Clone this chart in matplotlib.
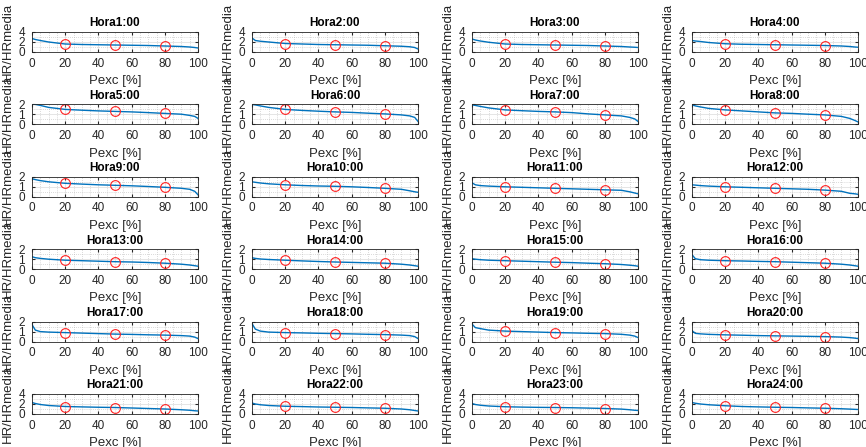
import numpy as np
import matplotlib
matplotlib.use('Agg')
from matplotlib import pyplot as plt
from matplotlib.ticker import AutoMinorLocator

plt.rcParams['font.family'] = ['Liberation Sans', 'DejaVu Sans']

# excedence percentages where each duration curve is read
pexc = [0, 2, 5, 10, 20, 30, 40, 50, 60, 70, 80, 90, 95, 98, 100]

# HR/HRmedia
h01 = [2.7, 2.5, 2.3, 2.0, 1.6, 1.5, 1.45, 1.4, 1.35, 1.3, 1.2, 1.1, 1.0, 0.9, 0.8]
h02 = [2.8, 2.3, 2.15, 2.0, 1.7, 1.6, 1.5, 1.45, 1.4, 1.35, 1.25, 1.15, 1.05, 0.9, 0.6]
h03 = [2.6, 2.4, 2.2, 1.95, 1.6, 1.5, 1.45, 1.4, 1.35, 1.3, 1.2, 1.1, 1.0, 0.95, 0.9]
h04 = [2.3, 2.2, 2.1, 1.9, 1.65, 1.55, 1.5, 1.45, 1.4, 1.35, 1.3, 1.2, 1.1, 1.0, 0.95]
h05 = [2.05, 2.0, 1.9, 1.7, 1.5, 1.42, 1.35, 1.3, 1.25, 1.18, 1.1, 1.02, 0.9, 0.8, 0.6]
h06 = [2.0, 1.95, 1.85, 1.7, 1.5, 1.4, 1.32, 1.25, 1.2, 1.12, 1.05, 0.95, 0.85, 0.7, 0.3]
h07 = [1.95, 1.9, 1.8, 1.65, 1.45, 1.37, 1.3, 1.25, 1.18, 1.05, 0.95, 0.85, 0.7, 0.55, 0.3]
h08 = [1.95, 1.85, 1.75, 1.6, 1.45, 1.35, 1.25, 1.15, 1.1, 1.02, 0.95, 0.8, 0.6, 0.4, 0.25]
h09 = [1.8, 1.72, 1.62, 1.5, 1.35, 1.27, 1.2, 1.15, 1.1, 1.03, 0.95, 0.85, 0.75, 0.55, 0.2]
h10 = [1.5, 1.45, 1.38, 1.3, 1.2, 1.13, 1.08, 1.05, 1.0, 0.93, 0.85, 0.75, 0.6, 0.5, 0.45]
h11 = [1.4, 1.2, 1.12, 1.07, 1.0, 0.95, 0.9, 0.85, 0.8, 0.75, 0.7, 0.65, 0.5, 0.38, 0.3]
h12 = [1.2, 1.17, 1.12, 1.07, 1.0, 0.95, 0.9, 0.85, 0.8, 0.75, 0.67, 0.55, 0.35, 0.3, 0.25]
h13 = [1.25, 1.15, 1.08, 1.0, 0.9, 0.85, 0.8, 0.75, 0.72, 0.67, 0.6, 0.5, 0.42, 0.35, 0.3]
h14 = [1.15, 1.08, 1.02, 0.97, 0.9, 0.83, 0.77, 0.72, 0.68, 0.64, 0.6, 0.5, 0.42, 0.35, 0.3]
h15 = [1.05, 1.0, 0.95, 0.9, 0.85, 0.8, 0.75, 0.7, 0.66, 0.6, 0.55, 0.47, 0.4, 0.35, 0.3]
h16 = [1.45, 1.05, 0.95, 0.9, 0.85, 0.82, 0.78, 0.75, 0.7, 0.65, 0.6, 0.5, 0.42, 0.35, 0.3]
h17 = [1.7, 1.15, 1.0, 0.95, 0.9, 0.85, 0.8, 0.75, 0.72, 0.68, 0.65, 0.6, 0.55, 0.45, 0.3]
h18 = [1.8, 1.25, 1.05, 0.95, 0.9, 0.87, 0.83, 0.8, 0.77, 0.73, 0.7, 0.65, 0.6, 0.5, 0.3]
h19 = [1.75, 1.4, 1.3, 1.15, 1.05, 1.0, 0.95, 0.9, 0.87, 0.83, 0.8, 0.73, 0.65, 0.55, 0.4]
h20 = [2.2, 1.65, 1.55, 1.45, 1.35, 1.28, 1.2, 1.15, 1.1, 1.05, 1.0, 0.9, 0.8, 0.7, 0.6]
h21 = [2.3, 2.1, 1.9, 1.7, 1.5, 1.42, 1.35, 1.3, 1.2, 1.1, 1.0, 0.85, 0.75, 0.65, 0.6]
h22 = [2.2, 2.0, 1.85, 1.7, 1.55, 1.48, 1.4, 1.35, 1.3, 1.22, 1.15, 1.0, 0.85, 0.7, 0.6]
h23 = [2.1, 1.9, 1.75, 1.6, 1.45, 1.38, 1.33, 1.3, 1.25, 1.18, 1.1, 0.98, 0.85, 0.75, 0.7]
h24 = [2.3, 2.15, 2.0, 1.85, 1.65, 1.5, 1.42, 1.35, 1.3, 1.22, 1.15, 1.05, 0.98, 0.93, 0.9]

curves = [h01, h02, h03, h04, h05, h06, h07, h08, h09, h10, h11, h12,
          h13, h14, h15, h16, h17, h18, h19, h20, h21, h22, h23, h24]

# upper y limit of each panel
ytop = [4, 4, 4, 4, 2, 2, 2, 2, 2, 2, 2, 2,
        2, 2, 2, 2, 2, 2, 2, 4, 4, 4, 4, 4]

marks = [20, 50, 80]

W, H = 866, 447
fig = plt.figure(figsize=(W / 100, H / 100), dpi=100)

col_px = [32, 252, 472, 692]
for i, y in enumerate(curves):
    r, c = divmod(i, 4)
    top = 32 + 72.4 * r
    ax = fig.add_axes([col_px[c] / W, 1 - (top + 20) / H, 166 / W, 20 / H])
    ax.plot(pexc, y, color='#0072BD', lw=1)
    my = [y[pexc.index(m)] for m in marks]
    ax.plot(marks, my, 'o', mfc='none', mec='#ff2020', ms=7, mew=0.8)
    ax.set_xlim(0, 100)
    ax.set_ylim(0, ytop[i])
    ax.set_xticks(range(0, 101, 20))
    ax.set_yticks(np.arange(0, ytop[i] + 0.1, ytop[i] / 2))
    ax.xaxis.set_minor_locator(AutoMinorLocator(4))
    ax.yaxis.set_minor_locator(AutoMinorLocator(2))
    ax.grid(True, which='major', color='#e0e0e0', lw=0.6)
    ax.grid(True, which='minor', color='#b8b8b8', lw=0.5, ls=(0, (1, 2)))
    ax.tick_params(which='both', direction='in', top=True, right=True,
                   labelsize=8.5, colors='#262626', length=2)
    ax.tick_params(axis='x', pad=4)
    ax.tick_params(axis='y', pad=5)
    ax.tick_params(which='minor', length=0)
    for s in ax.spines.values():
        s.set_color('#262626')
        s.set_linewidth(0.6)
    ax.set_title('Hora%d:00' % (i + 1), fontsize=8.5, fontweight='bold', pad=4)
    ax.set_xlabel('Pexc [%]', fontsize=9.5, color='#262626', labelpad=4)
    ax.set_ylabel('HR/HRmedia', fontsize=9.5, color='#262626', labelpad=3)

fig.savefig('out.png', dpi=100)
